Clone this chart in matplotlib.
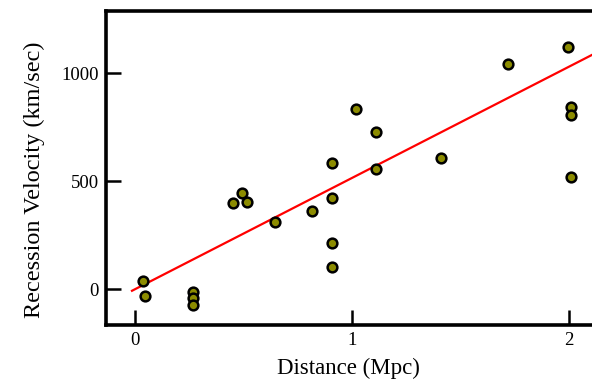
import matplotlib.pyplot as plt

# Hubble-style data: distance (Mpc) vs recession velocity (km/sec)
distance = [0.037, 0.047, 0.266, 0.266, 0.266, 0.452, 0.49, 0.517, 0.643,
            0.816, 0.909, 0.909, 0.909, 0.909, 1.017, 1.11, 1.11, 1.41,
            1.72, 1.995, 2.01, 2.01, 2.01]
velocity = [37, -32, -14, -42, -74, 398, 444, 403, 310,
            361, 583, 421, 213, 102, 833, 727, 555, 606,
            1042, 1120, 843, 806, 519]

# fitted line endpoints (distance) and slope
fit_x = [-0.015, 2.15]
slope = 515

xticks = [0, 1, 2]
yticks = [0, 500, 1000]

plt.rcParams['font.family'] = ['Liberation Serif', 'DejaVu Serif']

fig = plt.figure(figsize=(5.92, 3.83), dpi=100)
ax = fig.add_axes([0.179, 0.151, 0.83, 0.82])

ax.plot(fit_x, [slope * x for x in fit_x], color='#ff0000', linewidth=1.6, zorder=2)
ax.plot(distance, velocity, linestyle='none', marker='o', markersize=7,
        markerfacecolor='#8c8c00', markeredgecolor='black', markeredgewidth=1.8, zorder=3)

ax.set_xlim(-0.135, 2.13)
ax.set_ylim(-167, 1287)
ax.set_xticks(xticks)
ax.set_yticks(yticks)
ax.tick_params(direction='in', length=11, width=1.8, labelsize=13.5, pad=5)

for side in ['left', 'bottom', 'top']:
    ax.spines[side].set_linewidth(2.6)
ax.spines['right'].set_visible(False)

ax.set_xlabel("Distance (Mpc)", fontsize=16.5, va='center')
ax.set_ylabel("Recession Velocity (km/sec)", fontsize=17.5, va='center')
ax.xaxis.set_label_coords(0.493, -0.137)
ax.yaxis.set_label_coords(-0.145, 0.462)

fig.savefig("out.png", dpi=100)
